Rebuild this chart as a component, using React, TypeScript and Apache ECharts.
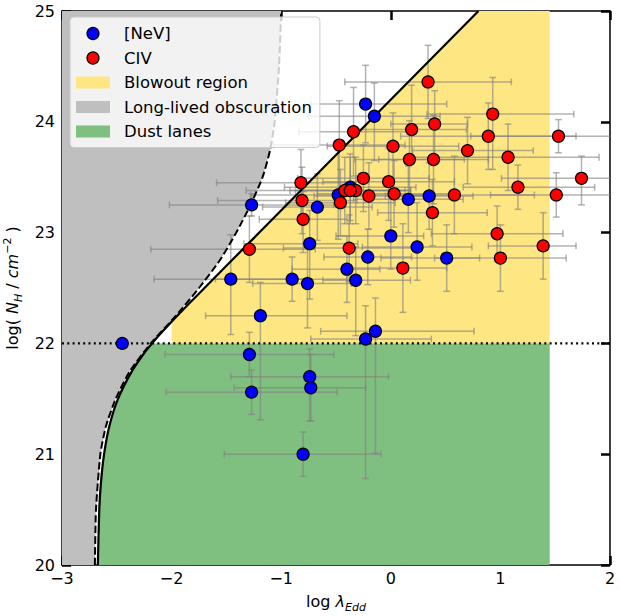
import React, { useEffect, useRef } from "react";
import * as echarts from "echarts";

// ---- axes ----
const X_MIN = -3;
const X_MAX = 2;
const Y_MIN = 20;
const Y_MAX = 25;
const xTickStep = 1;
const yTickStep = 1;

// ---- region limits ----
const blowoutMinL = -2.0;
const blowoutMaxL = 1.45;
const dustNH = 22.0;

// ---- effective Eddington limit (solid curve) ----
const solidLogL = [-2.673, -2.66, -2.644, -2.616, -2.569, -2.489, -2.362, -2.259, -2.178, -2.09, -1.948, -1.825, -1.7, -1.2, 0.8];
const solidLogNH = [20.0, 20.5, 20.75, 21.0, 21.25, 21.5, 21.75, 21.9, 22.0, 22.1, 22.25, 22.375, 22.5, 23.0, 25.0];

// ---- long-lived obscuration boundary (dashed curve) ----
const dashedLogL = [-2.7, -2.69, -2.65, -2.6, -2.51, -2.38, -2.19, -1.96, -1.75, -1.56, -1.41, -1.28, -1.17, -1.1, -1.06, -1.02, -1.0];
const dashedLogNH = [20.0, 20.5, 21.0, 21.25, 21.5, 21.75, 22.0, 22.25, 22.5, 22.75, 23.0, 23.25, 23.5, 23.75, 24.0, 24.5, 25.0];

// ---- [NeV] sample ----
const nevLogL = [-2.45, -1.27, -0.23, -0.15, -0.67, -0.48, -0.37, 0.16, 0.35, 0.0, -0.74, 0.24, -0.21, 0.51, -0.4, -0.32, -1.46, -0.9, -0.76, -1.19, -0.14, -0.23, -1.29, -0.74, -0.73, -1.27, -0.8];
const nevLogNH = [22.0, 23.25, 24.16, 24.05, 23.23, 23.34, 23.41, 23.3, 23.33, 22.97, 22.9, 22.87, 22.78, 22.77, 22.67, 22.57, 22.58, 22.58, 22.54, 22.25, 22.11, 22.04, 21.9, 21.7, 21.6, 21.56, 21.0];
const nevErrL = [[0, 0], [0.75, 0.75], [0.5, 0.74], [0.6, 0.6], [0.5, 0.5], [0.8, 0.8], [0.6, 0.6], [0.5, 0.5], [0.4, 0.4], [0.5, 0.3], [0.6, 0.44], [0.5, 0.5], [0.4, 0.4], [0.6, 0.3], [0.5, 0.3], [0.3, 0.5], [0.7, 0.7], [0.7, 0.5], [0.5, 0.4], [0.5, 0.79], [0.5, 0.9], [0.5, 0.6], [0.77, 0.77], [0.72, 0.72], [0.7, 0.5], [0.78, 0.78], [0.72, 0.71]];
const nevErrNH = [[0, 0], [0.1, 0.1], [0.35, 0.35], [0.4, 0.3], [0.3, 0.3], [0.4, 0.4], [0.3, 0.3], [0.3, 0.3], [0.3, 0.3], [0.3, 0.5], [0.5, 0.3], [0.3, 0.4], [0.25, 0.25], [0.3, 0.3], [0.3, 0.3], [0.5, 0.3], [0.5, 0.4], [0.2, 0.2], [0.4, 0.4], [0.94, 0.3], [1.1, 0.3], [1.26, 0.3], [0.2, 0.2], [0.4, 0.25], [0.3, 0.3], [0.2, 0.2], [0.2, 0.2]];

// ---- CIV sample ----
const civLogL = [0.34, -0.34, -0.47, 0.19, 0.4, 0.93, 0.89, 1.53, 0.02, 0.7, 1.07, 0.17, 0.39, 1.74, 1.16, -0.25, -0.02, -0.82, -0.42, -0.32, -0.2, 0.03, 0.58, 1.51, -0.81, -0.46, 0.38, -0.8, 0.97, -1.29, -0.38, 1.39, 1.0, 0.11, -0.37];
const civLogNH = [24.36, 23.91, 23.79, 23.93, 23.98, 24.07, 23.87, 23.87, 23.78, 23.74, 23.68, 23.66, 23.66, 23.49, 23.41, 23.49, 23.46, 23.45, 23.38, 23.38, 23.33, 23.35, 23.34, 23.34, 23.29, 23.27, 23.18, 23.12, 22.99, 22.85, 22.86, 22.88, 22.77, 22.68, 23.38];
const civErrL = [[0.76, 0.76], [0.5, 0.5], [0.6, 0.6], [0.5, 0.5], [0.4, 0.3], [0.6, 0.74], [0.8, 0.8], [0.8, 0.6], [0.6, 0.6], [0.5, 0.6], [0.9, 0.83], [0.5, 0.5], [0.5, 0.5], [0.73, 0.5], [0.5, 0.7], [0.6, 0.6], [0.6, 0.6], [0.77, 0.5], [0.9, 0.6], [0.6, 0.5], [0.5, 0.6], [0.7, 0.6], [0.5, 0.73], [0.6, 0.6], [0.77, 0.5], [0.5, 0.5], [0.5, 0.5], [0.4, 0.4], [0.6, 0.6], [0.9, 0.6], [0.6, 0.6], [0.5, 0.3], [0.6, 0.6], [0.5, 0.4], [0.5, 0.5]];
const civErrNH = [[0.33, 0.33], [0.4, 0.4], [0.4, 0.4], [0.3, 0.4], [0.35, 0.3], [0.5, 0.33], [0.3, 0.3], [0.15, 0.15], [0.4, 0.3], [0.3, 0.3], [0.3, 0.3], [0.35, 0.35], [0.4, 0.4], [0.24, 0.2], [0.2, 0.2], [0.3, 0.3], [0.35, 0.3], [0.35, 0.3], [0.3, 0.3], [0.3, 0.3], [0.3, 0.3], [0.3, 0.3], [0.35, 0.35], [0.2, 0.2], [0.3, 0.3], [0.3, 0.3], [0.3, 0.3], [0.3, 0.25], [0.25, 0.25], [0.3, 0.3], [0.3, 0.3], [0.3, 0.3], [0.3, 0.3], [0.4, 0.4], [0.3, 0.3]];

// ---- styles ----
const FONT = "DejaVu Sans";
const YELLOW = "#fee682";
const GREY = "#bfbfbf";
const GREEN = "#7fbf7f";
const ERR_COLOR = "rgba(128,128,128,0.6)";

const fmtTick = (v: number) => (v < 0 ? "\u2212" + Math.abs(v) : String(v));

function buildOption() {
  const solidPts = solidLogL.map((x, i) => [x, solidLogNH[i]]);
  const dashedPts = dashedLogL.map((x, i) => [x, dashedLogNH[i]]);

  const greyPoly = [[X_MIN, Y_MIN], ...dashedPts, [X_MIN, Y_MAX]];
  const greenPoly = [
    ...solidPts.filter((p) => p[1] <= dustNH),
    [blowoutMaxL, dustNH],
    [blowoutMaxL, Y_MIN],
  ];
  let yInt = dustNH;
  for (let i = 0; i < solidPts.length - 1; i++) {
    const [x1, y1] = solidPts[i];
    const [x2, y2] = solidPts[i + 1];
    if (x1 <= blowoutMinL && x2 > blowoutMinL) {
      yInt = y1 + ((blowoutMinL - x1) / (x2 - x1)) * (y2 - y1);
    }
  }
  const yellowPoly = [
    [blowoutMinL, dustNH],
    [blowoutMinL, yInt],
    ...solidPts.filter((p) => p[0] > blowoutMinL),
    [blowoutMaxL, Y_MAX],
    [blowoutMaxL, dustNH],
  ];

  const polySeries = (name: string, poly: number[][], color: string) => ({
    type: "custom",
    name,
    silent: true,
    z: 1,
    data: [[0, 0]],
    itemStyle: { color },
    renderItem: (_p: any, api: any) => ({
      type: "polygon",
      shape: { points: poly.map((pt) => api.coord(pt)) },
      style: { fill: color },
    }),
  });

  const errData = (xs: number[], ys: number[], el: number[][], en: number[][]) =>
    xs.map((x, i) => [x, ys[i], el[i][0], el[i][1], en[i][0], en[i][1]]);

  const CAP = 3.4;
  const errRender = (_p: any, api: any) => {
    const x = api.value(0);
    const y = api.value(1);
    const xl = api.value(2);
    const xh = api.value(3);
    const yl = api.value(4);
    const yh = api.value(5);
    const style = { stroke: ERR_COLOR, lineWidth: 1.5, fill: null };
    const children: any[] = [];
    if (xl > 0 || xh > 0) {
      const a = api.coord([x - xl, y]);
      const b = api.coord([x + xh, y]);
      children.push({ type: "line", shape: { x1: a[0], y1: a[1], x2: b[0], y2: b[1] }, style });
      children.push({ type: "line", shape: { x1: a[0], y1: a[1] - CAP, x2: a[0], y2: a[1] + CAP }, style });
      children.push({ type: "line", shape: { x1: b[0], y1: b[1] - CAP, x2: b[0], y2: b[1] + CAP }, style });
    }
    if (yl > 0 || yh > 0) {
      const a = api.coord([x, y - yl]);
      const b = api.coord([x, y + yh]);
      children.push({ type: "line", shape: { x1: a[0], y1: a[1], x2: b[0], y2: b[1] }, style });
      children.push({ type: "line", shape: { x1: a[0] - CAP, y1: a[1], x2: a[0] + CAP, y2: a[1] }, style });
      children.push({ type: "line", shape: { x1: b[0] - CAP, y1: b[1], x2: b[0] + CAP, y2: b[1] }, style });
    }
    return { type: "group", children };
  };

  const axisCommon = {
    type: "value",
    axisLine: { show: true, onZero: false, lineStyle: { color: "#000", width: 1.5 } },
    axisTick: { show: true, inside: true, length: 9, lineStyle: { color: "#000", width: 2.5 } },
    splitLine: { show: false },
  };

  return {
    animation: false,
    backgroundColor: "#fff",
    textStyle: { fontFamily: FONT },
    grid: { left: 62, right: 10, top: 11, bottom: 51, containLabel: false, outerBoundsMode: "none" },
    legend: {
      show: true,
      orient: "vertical",
      left: 70,
      top: 17,
      padding: [8, 8, 7.5, 6],
      itemGap: 7.5,
      itemWidth: 34,
      itemHeight: 12,
      selectedMode: false,
      backgroundColor: "rgba(255,255,255,0.8)",
      borderColor: "#cccccc",
      borderWidth: 1,
      borderRadius: 4,
      z: 10,
      textStyle: { fontFamily: FONT, fontSize: 16.5, color: "#000", lineHeight: 16, padding: [0, 0, 0, 9] },
      data: [
        { name: "[NeV]", icon: "circle", itemStyle: { color: "#0000ff", borderColor: "#000", borderWidth: 1.2 } },
        { name: "CIV", icon: "circle", itemStyle: { color: "#ff0000", borderColor: "#000", borderWidth: 1.2 } },
        { name: "Blowout region", icon: "rect", itemStyle: { color: YELLOW, borderWidth: 0 } },
        { name: "Long-lived obscuration", icon: "rect", itemStyle: { color: GREY, borderWidth: 0 } },
        { name: "Dust lanes", icon: "rect", itemStyle: { color: GREEN, borderWidth: 0 } },
      ],
    },
    xAxis: [
      {
        ...axisCommon,
        position: "bottom",
        min: X_MIN,
        max: X_MAX,
        interval: xTickStep,
        axisLabel: { show: true, margin: 5, fontSize: 16, color: "#000", fontFamily: FONT, formatter: fmtTick },
        name: "log {i|\u03bb}{sub|Edd}",
        nameLocation: "middle",
        nameGap: 24,
        nameTextStyle: {
          fontFamily: FONT,
          fontSize: 16,
          color: "#000",
          lineHeight: 22,
          rich: {
            i: { fontFamily: FONT, fontSize: 16, fontStyle: "italic", color: "#000", lineHeight: 22 },
            sub: { fontFamily: FONT, fontSize: 11, fontStyle: "italic", color: "#000", lineHeight: 12, verticalAlign: "bottom" },
          },
        },
      },
      {
        ...axisCommon,
        position: "top",
        min: X_MIN,
        max: X_MAX,
        interval: xTickStep,
        axisLabel: { show: false },
      },
    ],
    yAxis: [
      {
        ...axisCommon,
        position: "left",
        min: Y_MIN,
        max: Y_MAX,
        interval: yTickStep,
        axisLabel: { show: true, margin: 7, fontSize: 16, color: "#000", fontFamily: FONT, formatter: fmtTick },
        name: "log( {i|N}{sub|H} / {i|cm}{sup|\u22122} )",
        nameLocation: "middle",
        nameGap: 36,
        nameRotate: 90,
        nameTextStyle: {
          fontFamily: FONT,
          fontSize: 16,
          color: "#000",
          lineHeight: 22,
          rich: {
            i: { fontFamily: FONT, fontSize: 16, fontStyle: "italic", color: "#000", lineHeight: 22 },
            sub: { fontFamily: FONT, fontSize: 11, fontStyle: "italic", color: "#000", lineHeight: 12, verticalAlign: "bottom" },
            sup: { fontFamily: FONT, fontSize: 11, color: "#000", lineHeight: 12, verticalAlign: "top" },
          },
        },
      },
      {
        ...axisCommon,
        position: "right",
        min: Y_MIN,
        max: Y_MAX,
        interval: yTickStep,
        axisLabel: { show: false },
      },
    ],
    series: [
      polySeries("Long-lived obscuration", greyPoly, GREY),
      polySeries("Blowout region", yellowPoly, YELLOW),
      polySeries("Dust lanes", greenPoly, GREEN),
      {
        type: "custom",
        name: "nev-err",
        silent: true,
        clip: true,
        z: 2,
        data: errData(nevLogL, nevLogNH, nevErrL, nevErrNH),
        encode: { x: 0, y: 1 },
        renderItem: errRender,
      },
      {
        type: "custom",
        name: "civ-err",
        silent: true,
        clip: true,
        z: 2,
        data: errData(civLogL, civLogNH, civErrL, civErrNH),
        encode: { x: 0, y: 1 },
        renderItem: errRender,
      },
      {
        type: "line",
        name: "dust-limit",
        silent: true,
        z: 3,
        symbol: "none",
        data: [[X_MIN, dustNH], [X_MAX, dustNH]],
        lineStyle: { color: "#000", width: 2.2, type: [2, 3.3] },
      },
      {
        type: "line",
        name: "dashed-boundary",
        silent: true,
        z: 3,
        symbol: "none",
        smooth: 0.2,
        data: dashedPts,
        lineStyle: { color: "#000", width: 2, type: [7.4, 3.2] },
      },
      {
        type: "line",
        name: "eddington",
        silent: true,
        z: 3,
        symbol: "none",
        smooth: 0.2,
        data: solidPts,
        lineStyle: { color: "#000", width: 2.2 },
      },
      {
        type: "scatter",
        name: "[NeV]",
        z: 5,
        symbol: "circle",
        symbolSize: 12,
        data: nevLogL.map((x, i) => [x, nevLogNH[i]]),
        itemStyle: { color: "#0000ff", borderColor: "#000", borderWidth: 1.2, opacity: 1 },
      },
      {
        type: "scatter",
        name: "CIV",
        z: 5,
        symbol: "circle",
        symbolSize: 12,
        data: civLogL.map((x, i) => [x, civLogNH[i]]),
        itemStyle: { color: "#ff0000", borderColor: "#000", borderWidth: 1.2, opacity: 1 },
      },
    ],
  };
}

export default function App() {
  const ref = useRef<HTMLDivElement>(null);
  useEffect(() => {
    if (!ref.current) return;
    const chart = echarts.init(ref.current, null, { renderer: "svg" });
    chart.setOption(buildOption() as any);
    return () => chart.dispose();
  }, []);
  return (
    <div
      ref={ref}
      style={{ position: "fixed", left: 0, top: 0, width: 620, height: 616, background: "#fff" }}
    />
  );
}
